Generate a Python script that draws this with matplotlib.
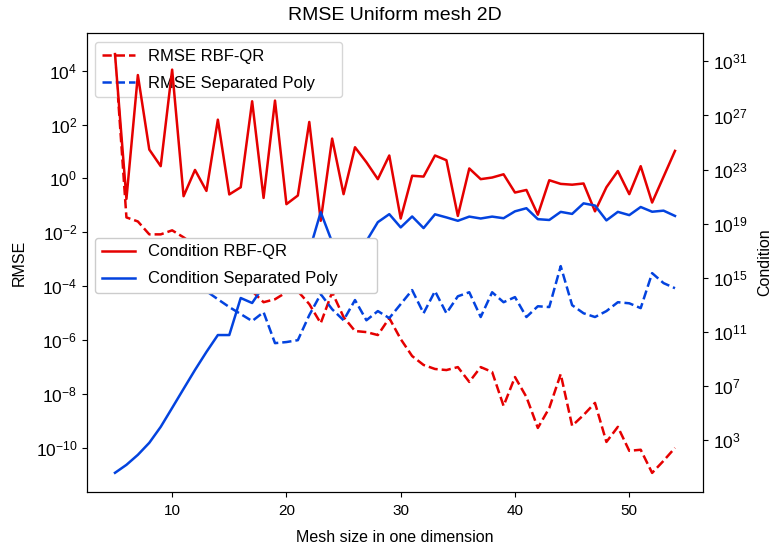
import numpy as np
import matplotlib
matplotlib.use("Agg")
import matplotlib.pyplot as plt
from matplotlib.ticker import NullLocator

plt.rcParams['font.family'] = ['Liberation Sans', 'DejaVu Sans']
plt.rcParams['mathtext.fontset'] = 'cm'

# mesh sizes
mesh_size = np.arange(5, 55)

# log10 of the values
rmse_rbfqr_exp = [4.63, -1.45, -1.60, -2.08, -2.08, -1.93, -2.19, -2.49, -2.86, -3.15,
                  -3.52, -3.86, -4.19, -4.60, -4.49, -4.23, -4.19, -4.67, -5.38, -4.23,
                  -5.15, -5.67, -5.71, -5.82, -5.19, -5.97, -6.60, -6.93, -7.08, -7.12,
                  -7.01, -7.56, -7.01, -7.19, -8.45, -7.38, -8.12, -9.27, -8.53, -7.27,
                  -9.19, -8.79, -8.34, -9.79, -9.23, -10.12, -10.08, -10.94, -10.49, -10.01]
rmse_poly_exp = [-2.67, -3.12, -3.41, -3.64, -3.78, -3.89, -4.01, -4.08, -4.19, -4.49,
                 -4.78, -5.04, -5.30, -4.97, -6.12, -6.08, -6.01, -5.08, -4.30, -4.86,
                 -5.27, -4.52, -5.27, -4.93, -5.19, -4.67, -4.15, -5.01, -4.19, -5.01,
                 -4.38, -4.23, -5.15, -4.23, -4.60, -4.41, -5.15, -4.75, -4.78, -3.26,
                 -4.71, -5.01, -5.15, -4.93, -4.60, -4.64, -4.82, -3.52, -3.89, -4.08]
cond_rbfqr_exp = [31.54, 20.83, 29.99, 24.48, 23.25, 30.39, 21.03, 22.97, 21.42, 26.69,
                  21.16, 21.69, 28.05, 20.90, 28.10, 20.44, 21.08, 26.52, 19.21, 25.29,
                  21.18, 24.65, 23.54, 22.29, 24.04, 19.38, 22.54, 22.48, 24.04, 23.69,
                  19.57, 23.08, 22.29, 22.41, 22.65, 21.30, 21.49, 19.66, 22.21, 21.94,
                  21.88, 21.97, 19.91, 21.69, 22.89, 21.18, 23.25, 20.56, 22.47, 24.38]
cond_poly_exp = [0.57, 1.16, 1.90, 2.79, 3.97, 5.37, 6.78, 8.18, 9.51, 10.76,
                 10.76, 13.50, 13.13, 14.38, 15.19, 15.79, 16.23, 16.97, 19.85, 17.63,
                 17.12, 17.34, 17.71, 19.11, 19.70, 18.72, 19.53, 18.67, 19.69, 19.46,
                 19.21, 19.52, 19.38, 19.52, 19.40, 19.91, 20.14, 19.33, 19.27, 19.87,
                 19.72, 20.50, 20.34, 19.24, 19.87, 19.63, 20.23, 19.88, 19.96, 19.57]

rmse_rbfqr = 10.0 ** np.array(rmse_rbfqr_exp)
rmse_poly = 10.0 ** np.array(rmse_poly_exp)
cond_rbfqr = 10.0 ** np.array(cond_rbfqr_exp)
cond_poly = 10.0 ** np.array(cond_poly_exp)

red = '#e50000'
blue = '#0343df'
lw = 1.8

fig = plt.figure(figsize=(7.72, 5.49), dpi=100)
ax = fig.add_axes([0.1127, 0.1038, 0.7979, 0.8361])
ax2 = ax.twinx()

ax.plot(mesh_size, rmse_rbfqr, '--', color=red, lw=lw, label='RMSE RBF-QR')
ax.plot(mesh_size, rmse_poly, '--', color=blue, lw=lw, label='RMSE Separated Poly')
ax2.plot(mesh_size, cond_rbfqr, '-', color=red, lw=lw, label='Condition RBF-QR')
ax2.plot(mesh_size, cond_poly, '-', color=blue, lw=lw, label='Condition Separated Poly')

ax.set_yscale('log')
ax2.set_yscale('log')
ax.set_ylim(10**-11.65, 10**5.4)
ax2.set_ylim(10**-0.85, 10**33.1)
ax.set_yticks([10.0**k for k in range(-10, 5, 2)])
ax2.set_yticks([10.0**k for k in range(3, 32, 4)])
ax.yaxis.set_minor_locator(NullLocator())
ax2.yaxis.set_minor_locator(NullLocator())
ax.tick_params(axis='y', labelsize=12.5)
ax2.tick_params(axis='y', labelsize=12.5)
ax.tick_params(axis='x', labelsize=11, pad=5)

ax.set_title('RMSE Uniform mesh 2D', fontsize=14, pad=9)
ax.set_xlabel('Mesh size in one dimension', fontsize=11.5, labelpad=9)
ax.set_ylabel('RMSE', fontsize=11.5, labelpad=6)
ax2.set_ylabel('Condition', fontsize=11.5, labelpad=7)

# legend boxes sized like the original (axes fractions)
ax.legend(loc='upper left', bbox_to_anchor=(0.013, 0.0, 0.401, 0.9804),
          mode='expand', borderaxespad=0, fontsize=12, labelspacing=0.72)
ax2.legend(loc='center left', bbox_to_anchor=(0.013, 0.4336, 0.458, 0.1198),
           mode='expand', borderaxespad=0, fontsize=12, labelspacing=0.72,
           framealpha=1)

fig.savefig('out.png', dpi=100)
